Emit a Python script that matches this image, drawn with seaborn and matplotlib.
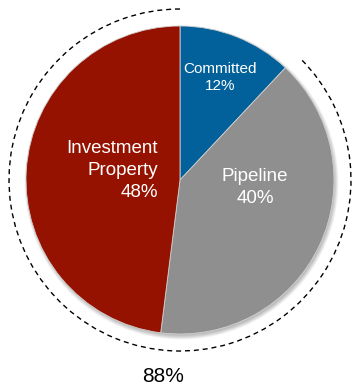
import numpy as np
import seaborn as sns
import matplotlib.pyplot as plt
from matplotlib.patches import Arc, Circle

# data
labels = ['Committed', 'Pipeline', 'Investment\nProperty']
shares = [12, 40, 48]
colors = ['#02609A', '#8F8F8F', '#961200']
total_label = '88%'

sns.set_theme(style='white')
plt.rcParams['font.family'] = ['Liberation Sans', 'DejaVu Sans']

fig = plt.figure(figsize=(3.52, 3.89), dpi=100)
ax = fig.add_axes([0, 0, 1, 1])

cx, cy, r = 180, 209, 154

# soft shadow under the pie
for i in range(8):
    ax.add_patch(Circle((cx + 1.5, cy - 2.5), r + 3 - i * 0.6, color='black',
                        alpha=0.035, lw=0, zorder=1))

wedges, _ = ax.pie(shares, colors=colors, startangle=90, counterclock=False,
                   center=(cx, cy), radius=r, frame=True,
                   wedgeprops=dict(linewidth=0.6, edgecolor='#d0d0d0'))
for w in wedges:
    w.set_zorder(2)
ax.set_xlim(0, 352)
ax.set_ylim(0, 389)
ax.set_aspect('equal')
ax.axis('off')

# dashed arc around the 88% (pipeline + investment property)
gap = shares[0] / 100 * 360
ax.add_patch(Arc((cx, cy), 2 * 171, 2 * 171, theta1=90, theta2=90 - gap + 360 - 1.5,
                 color='black', lw=1.0, linestyle=(0, (3.6, 2.8)), zorder=3))

ax.text(220, 389 - 77.5, f'{labels[0]}\n{shares[0]}%', color='white', fontsize=11,
        ha='center', va='center', linespacing=1.3, zorder=4)
ax.text(255, 389 - 187.5, f'{labels[1]}\n{shares[1]}%', color='white', fontsize=13.5,
        ha='center', va='center', linespacing=1.35, zorder=4)
ax.text(158, 389 - 170.5, f'{labels[2]}\n{shares[2]}%', color='white', fontsize=13.5,
        ha='right', va='center', linespacing=1.35, multialignment='right', zorder=4)
ax.text(163, 389 - 377, total_label, color='black', fontsize=15,
        ha='center', va='center', zorder=4)

fig.savefig('out.png', dpi=100)
